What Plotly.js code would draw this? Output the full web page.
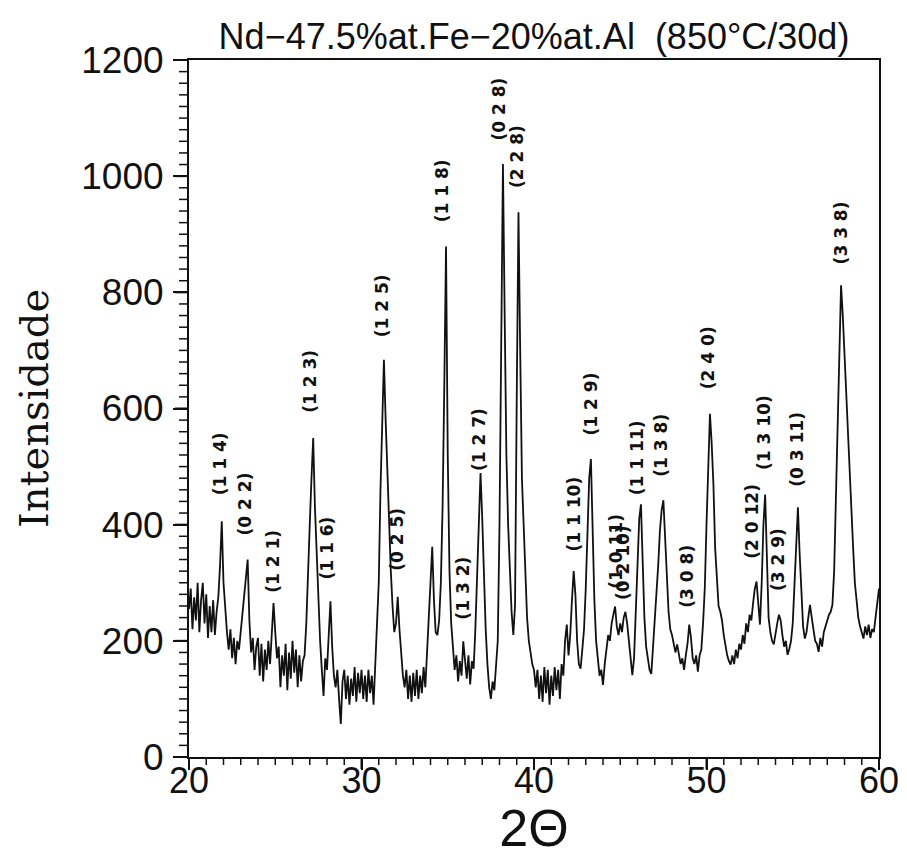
<!DOCTYPE html>
<html>
<head>
<meta charset="utf-8">
<script src="https://cdn.plot.ly/plotly-3.0.1.min.js"></script>
<style>html,body{margin:0;padding:0;background:#fff;}#chart{width:907px;height:857px;}</style>
</head>
<body>
<div id="chart"></div>
<script>
// 2-theta scan: start, step (degrees)
const twoThetaStart = 20.0;
const twoThetaStep = 0.1;
// Intensity, 20.0 .. 60.0 every 0.1 degree (one row per degree)
const intensity = [
  255, 290, 220, 275, 235, 300, 215, 270, 300, 230,
  280, 205, 260, 215, 270, 210, 250, 275, 330, 406,
  300, 250, 215, 185, 220, 170, 205, 160, 200, 185,
  215, 240, 275, 300, 340, 235, 180, 205, 150, 190,
  205, 140, 195, 130, 185, 150, 200, 160, 215, 265,
  215, 170, 190, 120, 175, 140, 195, 115, 180, 135,
  200, 145, 185, 120, 175, 130, 165, 175, 230, 300,
  400, 480, 549, 430, 350, 260, 200, 150, 105, 170,
  150, 210, 268, 190, 140, 120, 150, 100, 57, 130,
  150, 100, 140, 90, 135, 105, 155, 95, 145, 110,
  150, 100, 140, 95, 150, 110, 140, 90, 160, 210,
  300, 460, 600, 684, 580, 480, 400, 320, 260, 215,
  230, 276, 220, 175, 140, 120, 150, 100, 140, 95,
  145, 105, 150, 100, 140, 110, 155, 120, 170, 240,
  300, 362, 270, 215, 210, 235, 300, 430, 640, 879,
  520, 320, 230, 181, 150, 175, 130, 165, 140, 199,
  160, 135, 175, 125, 165, 152, 220, 300, 400, 489,
  410, 300, 220, 160, 120, 100, 130, 115, 152, 200,
  400, 700, 1021, 760, 520, 400, 310, 250, 210, 260,
  620, 938, 700, 480, 400, 330, 239, 200, 175, 160,
  150, 120, 150, 100, 140, 95, 155, 110, 150, 90,
  140, 105, 155, 115, 150, 100, 160, 140, 200, 228,
  175, 210, 270, 320, 280, 200, 160, 152, 185, 220,
  290, 400, 480, 513, 380, 270, 200, 165, 140, 150,
  124, 160, 185, 210, 200, 230, 245, 259, 225, 210,
  230, 215, 240, 250, 230, 200, 165, 141, 170, 250,
  340, 410, 435, 330, 240, 190, 165, 150, 143, 190,
  220, 270, 330, 390, 425, 442, 380, 300, 250, 220,
  210, 195, 180, 194, 175, 160, 170, 150, 175, 195,
  228, 205, 170, 160, 175, 147, 175, 185, 230, 290,
  400, 500, 591, 540, 470, 360, 300, 260, 250, 235,
  210, 190, 175, 165, 159, 175, 160, 185, 170, 195,
  185, 210, 195, 230, 215, 245, 235, 265, 290, 302,
  260, 228, 300, 400, 452, 330, 240, 215, 200, 194,
  215, 230, 245, 235, 210, 190, 200, 176, 186, 200,
  230, 290, 370, 430, 350, 270, 225, 204, 215, 240,
  262, 240, 220, 200, 195, 181, 205, 190, 215, 225,
  233, 245, 250, 262, 320, 435, 590, 700, 812, 760,
  690, 620, 560, 480, 420, 360, 300, 265, 240, 225,
  215, 204, 225, 210, 228, 205, 220, 215, 240, 262,
  290
];

// Peak (hkl) labels: text, 2-theta position, intensity level of label centre
const peakLabels = ["(1 1 4)", "(0 2 2)", "(1 2 1)", "(1 2 3)", "(1 1 6)", "(1 2 5)", "(0 2 5)", "(1 1 8)", "(1 3 2)", "(1 2 7)", "(0 2 8)", "(2 2 8)", "(1 1 10)", "(1 2 9)", "(1 0 11)", "(0 2 10)", "(1 1 11)", "(1 3 8)", "(3 0 8)", "(2 4 0)", "(2 0 12)", "(1 3 10)", "(3 2 9)", "(0 3 11)", "(3 3 8)"];
const peakLabelX = [21.8, 23.25, 24.9, 27.02, 28.0, 31.17, 32.06, 34.67, 35.83, 36.8, 37.96, 39.02, 42.31, 43.28, 44.75, 45.2, 45.99, 47.34, 48.89, 50.1, 52.67, 53.34, 54.12, 55.28, 57.79];
const peakLabelY = [504, 435, 337, 646, 359, 777, 374, 974, 290, 547, 1116, 1033, 419, 608, 355, 335, 515, 537, 311, 687, 406, 558, 340, 530, 903];

// Axis scales
const xMin = 20, xMax = 60, xMajor = 10, xMinor = 1;
const yMin = 0, yMax = 1200, yMajor = 200, yMinor = 20;

const twoTheta = intensity.map((_, i) => +(twoThetaStart + i * twoThetaStep).toFixed(2));

const trace = {
  x: twoTheta,
  y: intensity,
  type: 'scatter',
  mode: 'lines',
  line: {color: '#111111', width: 1.8},
  hoverinfo: 'x+y'
};

// Outside tick marks (major + minor) drawn as unclipped paper-referenced shapes
const plotW = 907 - 189 - 28, plotH = 857 - 60 - 100;
const shapes = [];
for (let v = xMin; v <= xMax + 1e-9; v += xMinor) {
  const major = Math.abs((v - xMin) % xMajor) < 1e-6;
  const px = (v - xMin) / (xMax - xMin);
  shapes.push({type: 'line', xref: 'paper', yref: 'paper', x0: px, x1: px, y0: 0, y1: -(major ? 12 : 8) / plotH,
    line: {color: '#111111', width: major ? 2 : 1.5}, layer: 'above'});
}
for (let v = yMin; v <= yMax + 1e-9; v += yMinor) {
  const major = Math.abs((v - yMin) % yMajor) < 1e-6;
  const py = (v - yMin) / (yMax - yMin);
  shapes.push({type: 'line', xref: 'paper', yref: 'paper', x0: 0, x1: -(major ? 14 : 10) / plotW, y0: py, y1: py,
    line: {color: '#111111', width: major ? 2 : 1.5}, layer: 'above'});
}

const annotations = peakLabels.map((t, i) => ({
  x: peakLabelX[i], y: peakLabelY[i], xref: 'x', yref: 'y',
  text: t.replace(/ /g, '\u00a0'), showarrow: false, textangle: -90,
  xanchor: 'center', yanchor: 'middle',
  font: {family: 'DejaVu Sans', size: 17, color: '#111111', weight: 'bold'}
}));

const layout = {
  width: 907, height: 857,
  margin: {l: 189, r: 28, t: 60, b: 100, pad: 0},
  paper_bgcolor: '#ffffff', plot_bgcolor: '#ffffff',
  showlegend: false,
  title: {
    text: 'Nd−47.5%at.Fe−20%at.Al\u00a0\u00a0(850°C/30d)',
    font: {family: 'Liberation Sans', size: 36, color: '#111111'},
    x: 0.5, xref: 'paper', xanchor: 'center',
    y: 1 - 36/857, yref: 'container', yanchor: 'middle'
  },
  xaxis: {
    range: [xMin, xMax], tickmode: 'linear', tick0: xMin, dtick: xMajor,
    showgrid: false, zeroline: false,
    showline: true, mirror: true, linecolor: '#111111', linewidth: 2,
    ticks: 'outside', ticklen: 11, tickwidth: 2, tickcolor: '#111111',
    tickfont: {family: 'Liberation Sans', size: 36, color: '#111111'},
    ticklabelstandoff: -20,
    title: {text: '2Θ', font: {family: 'Liberation Sans', size: 52, color: '#111111'}, standoff: 6},
    automargin: false
  },
  yaxis: {
    range: [yMin, yMax], tickmode: 'linear', tick0: yMin, dtick: yMajor,
    showgrid: false, zeroline: false,
    showline: true, mirror: true, linecolor: '#111111', linewidth: 2,
    ticks: 'outside', ticklen: 14, tickwidth: 2, tickcolor: '#111111',
    tickfont: {family: 'Liberation Sans', size: 37, color: '#111111'},
    ticklabelstandoff: 2,
    title: {text: 'Intensidade', font: {family: 'DejaVu Serif', size: 40, color: '#111111'}, standoff: 20},
    automargin: false
  },
  shapes: shapes,
  annotations: annotations
};

Plotly.newPlot('chart', [trace], layout, {displayModeBar: false, staticPlot: true});
</script>
</body>
</html>
